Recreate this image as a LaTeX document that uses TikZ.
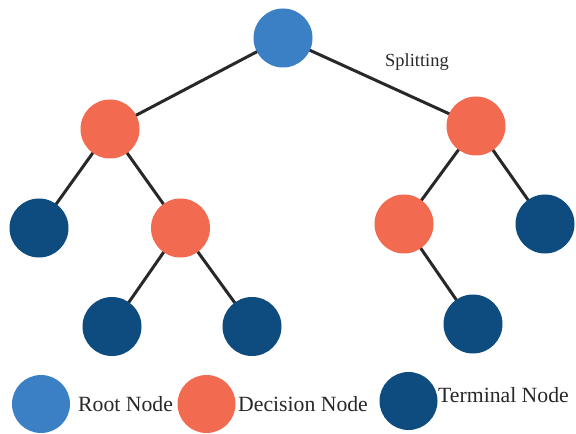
\documentclass[tikz,border=0pt]{standalone}
\usepackage{fontspec}
\setmainfont{Liberation Serif}
\definecolor{rootc}{RGB}{59,128,196}
\definecolor{decc}{RGB}{242,107,80}
\definecolor{termc}{RGB}{14,76,128}
\definecolor{edgec}{RGB}{40,40,40}
\definecolor{txtc}{RGB}{40,40,40}
\begin{document}
\begin{tikzpicture}[x=1bp,y=-1bp,
  nd/.style={circle,inner sep=0pt,minimum size=59bp},
  rootnd/.style={nd,fill=rootc},
  decnd/.style={nd,fill=decc},
  termnd/.style={nd,fill=termc},
  lgd/.style={circle,inner sep=0pt,minimum size=58bp},
  edge/.style={draw=edgec,line width=3bp},
  lbl/.style={inner sep=0pt,text=txtc,font=\fontsize{21.8}{24}\selectfont},
  slbl/.style={inner sep=0pt,text=txtc,font=\fontsize{18.5}{21}\selectfont}]
\useasboundingbox (0,0) rectangle (576,434);
\fill[white] (0,0) rectangle (576,434);
% edges (behind nodes)
\coordinate (cr) at (283,38);
\coordinate (cl) at (110,129);
\coordinate (crr) at (476,126);
\coordinate (cll) at (39,228);
\coordinate (clm) at (180.5,228);
\coordinate (crm) at (404,224);
\coordinate (crt) at (545,224);
\coordinate (cla) at (112,326.5);
\coordinate (clb) at (252,326.5);
\coordinate (crb) at (473,324);
\draw[edge] (cr) -- (cl);
\draw[edge] (cr) -- (crr);
\draw[edge] (cl) -- (cll);
\draw[edge] (cl) -- (clm);
\draw[edge] (clm) -- (cla);
\draw[edge] (clm) -- (clb);
\draw[edge] (crr) -- (crm);
\draw[edge] (crr) -- (crt);
\draw[edge] (crm) -- (crb);
% nodes
\node[rootnd] (root) at (cr) {};
\node[decnd] (dl) at (cl) {};
\node[decnd] (dr) at (crr) {};
\node[termnd] (tll) at (cll) {};
\node[decnd] (dlm) at (clm) {};
\node[decnd] (drm) at (crm) {};
\node[termnd] (trt) at (crt) {};
\node[termnd] (tla) at (cla) {};
\node[termnd] (tlb) at (clb) {};
\node[termnd] (trb) at (crb) {};
\node[slbl,anchor=base west] (split) at (385,67) {Splitting};
% legend
\node[lgd,fill=rootc] (lr) at (41,404) {};
\node[lbl,anchor=base west] (lrt) at (78,411) {Root Node};
\node[lgd,fill=decc] (ld) at (206.5,404) {};
\node[lbl,anchor=base west] (ldt) at (238,411) {Decision Node};
\node[lgd,fill=termc] (lt) at (408.5,401) {};
\node[lbl,anchor=base west] (ltt) at (438,402) {Terminal Node};
\end{tikzpicture}
\end{document}
